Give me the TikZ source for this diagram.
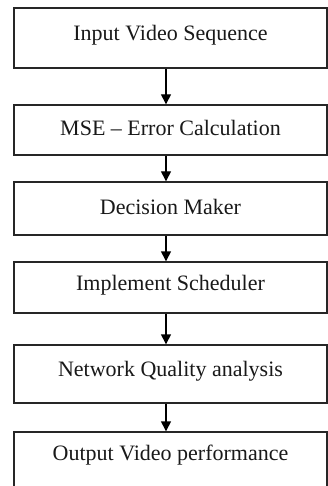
\documentclass[tikz,border=0pt]{standalone}
\usepackage{fontspec}
\setmainfont{Liberation Serif}
\usetikzlibrary{arrows.meta}
\begin{document}
\begin{tikzpicture}[x=1pt,y=1pt,
  box/.style={draw=black!85, line width=1.4pt, minimum width=313pt, inner sep=0pt},
  lbl/.style={font=\fontsize{22}{26}\selectfont, text=black!90, inner sep=0pt},
  arr/.style={draw=black, line width=1.4pt, -{Triangle[length=10pt,width=10pt]}}]
\useasboundingbox (0,0) rectangle (328,-486);
\clip (0,0) rectangle (328,-486);
\fill[white] (0,0) rectangle (328,-486);
\node[box, minimum height=60pt] (b1) at (170.5,-38) {};
\node[lbl] (t1) at (170.5,-35) {Input Video Sequence};
\node[box, minimum height=50pt] (b2) at (170.5,-130) {};
\node[lbl] (t2) at (170.5,-128) {MSE -- Error Calculation};
\node[box, minimum height=53pt] (b3) at (170.5,-208.5) {};
\node[lbl] (t3) at (170.5,-207) {Decision Maker};
\node[box, minimum height=51pt] (b4) at (170.5,-287.5) {};
\node[lbl] (t4) at (170.5,-285) {Implement Scheduler};
\node[box, minimum height=58pt] (b5) at (170.5,-374) {};
\node[lbl] (t5) at (170.5,-371) {Network Quality analysis};
\node[box, minimum height=70pt] (b6) at (170.5,-467) {};
\node[lbl] (t6) at (170.5,-455) {Output Video performance};
\coordinate (ax) at (166,0);
\draw[arr] (b1.south -| ax) -- (b2.north -| ax);
\draw[arr] (b2.south -| ax) -- (b3.north -| ax);
\draw[arr] (b3.south -| ax) -- (b4.north -| ax);
\draw[arr] (b4.south -| ax) -- (b5.north -| ax);
\draw[arr] (b5.south -| ax) -- (b6.north -| ax);
\end{tikzpicture}
\end{document}
